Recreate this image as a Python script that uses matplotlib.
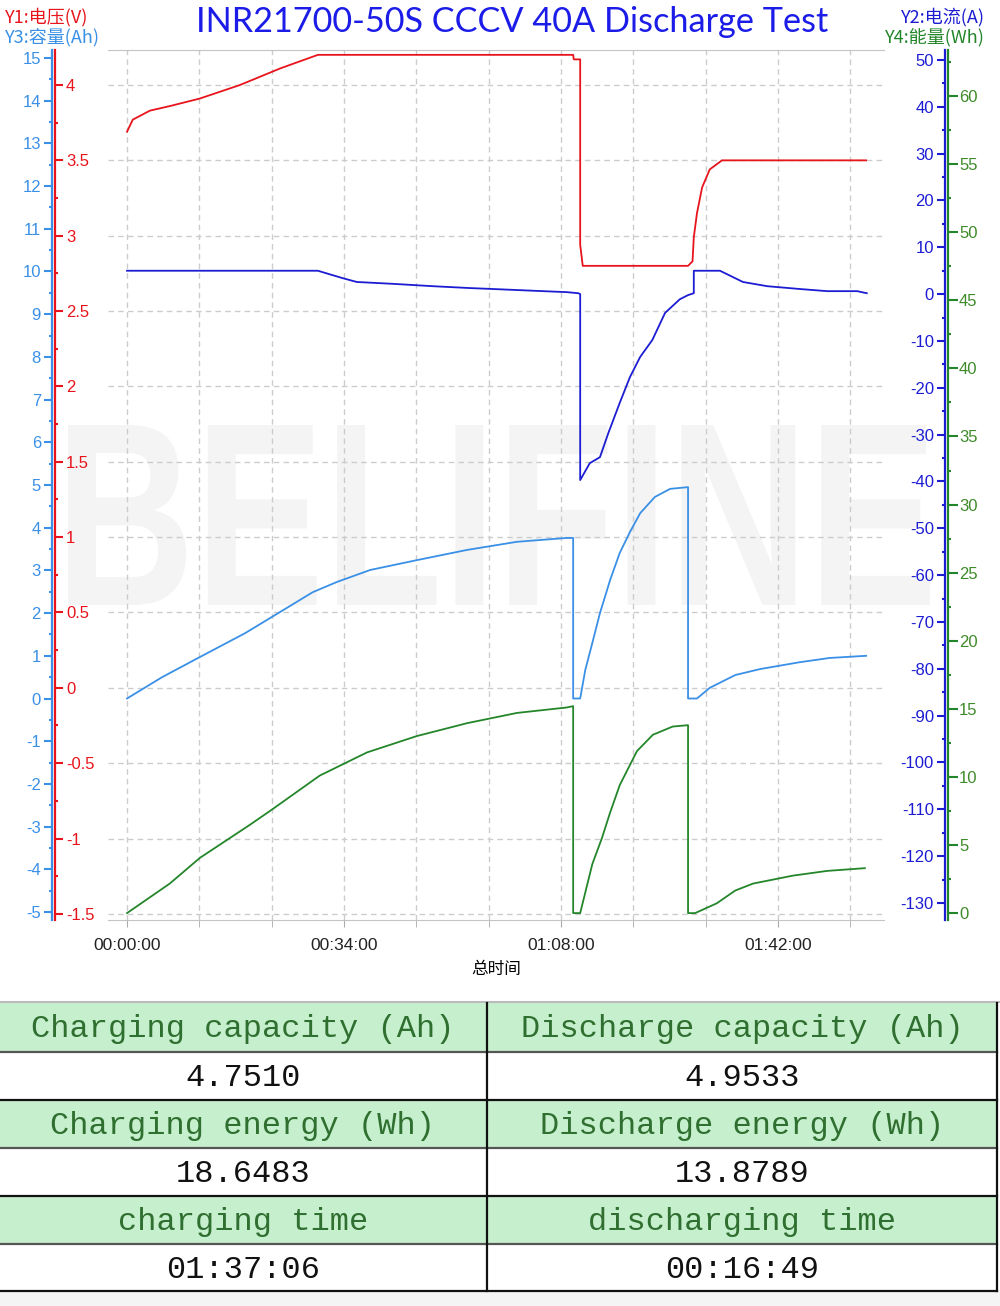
import matplotlib.pyplot as plt
from matplotlib.patches import Rectangle, PathPatch
from matplotlib.textpath import TextPath
from matplotlib.font_manager import FontProperties
from matplotlib.transforms import Affine2D
from matplotlib.ticker import MultipleLocator, FixedLocator, FuncFormatter

plt.rcParams['font.family'] = ['Liberation Sans', 'Noto Sans CJK SC', 'DejaVu Sans']
plt.rcParams['axes.unicode_minus'] = False

# ---- data (time in minutes) ----
t_volt = [0, 0.9, 3.6, 6.7, 11.4, 17.7, 24.0, 29.9, 69.9, 70.0, 71.0, 71.0, 71.4,
          87.9, 88.6, 88.8, 89.3, 90.1, 91.3, 92.9, 93.2, 115.8]
volt = [3.69, 3.77, 3.83, 3.86, 3.91, 4.00, 4.11, 4.20, 4.20, 4.17, 4.17, 2.94, 2.80,
        2.80, 2.83, 2.99, 3.15, 3.32, 3.44, 3.49, 3.50, 3.50]

t_curr = [0, 29.9, 33.7, 36.0, 41.7, 47.9, 53.7, 57.3, 65.2, 68.9, 70.7, 71.0, 71.0,
          72.5, 74.1, 75.4, 77.2, 78.8, 80.4, 82.3, 84.3, 86.6, 87.9, 88.8, 88.8,
          92.9, 96.5, 100.3, 105.4, 109.7, 114.4, 115.9]
curr = [5.0, 5.0, 3.45, 2.6, 2.2, 1.7, 1.3, 1.1, 0.64, 0.43, 0.2, 0.0, -39.7,
        -36.1, -34.8, -29.7, -23.2, -17.7, -13.4, -9.8, -4.0, -1.1, -0.2, 0.2, 5.0,
        5.0, 2.6, 1.7, 1.1, 0.64, 0.64, 0.2]

t_cap = [0, 5.5, 11.4, 18.5, 22.7, 29.1, 32.9, 38.1, 45.4, 53.3, 61.1, 68.9, 69.9, 69.9,
         71.0, 71.8, 72.9, 74.1, 75.7, 77.2, 78.8, 80.4, 82.7, 85.1, 87.9, 87.9,
         89.3, 91.3, 95.3, 99.2, 105.4, 110.1, 115.8]
cap = [0.0, 0.50, 0.97, 1.53, 1.91, 2.49, 2.73, 3.01, 3.24, 3.48, 3.67, 3.76, 3.76, 0.0,
       0.0, 0.67, 1.30, 2.0, 2.78, 3.41, 3.90, 4.34, 4.72, 4.91, 4.95, 0.0,
       0.0, 0.25, 0.55, 0.69, 0.85, 0.95, 1.0]

t_energy = [0, 6.7, 11.4, 19.3, 22.7, 30.2, 37.6, 45.4, 53.3, 61.1, 68.9, 69.9, 69.9,
            71.0, 72.9, 74.4, 75.7, 77.2, 79.9, 82.4, 85.5, 87.9, 87.9,
            89.0, 92.4, 95.3, 98.1, 104.3, 109.7, 115.6]
energy = [0.0, 2.17, 4.05, 6.5, 7.6, 10.1, 11.8, 13.0, 13.95, 14.7, 15.1, 15.2, 0.0,
          0.0, 3.6, 5.5, 7.4, 9.4, 11.9, 13.1, 13.7, 13.8, 0.0,
          0.0, 0.72, 1.66, 2.17, 2.75, 3.1, 3.3]

x_major = [0, 34, 68, 102]

table_left = ["Charging capacity (Ah)", "4.7510", "Charging energy (Wh)", "18.6483",
              "charging time", "01:37:06"]
table_right = ["Discharge capacity (Ah)", "4.9533", "Discharge energy (Wh)", "13.8789",
               "discharging time", "00:16:49"]

RED = '#e8141c'
BLUE = '#1c1cd2'
LBLUE = '#3a90e6'
GREEN = '#24862a'

W, H = 1000, 1306
fig = plt.figure(figsize=(10, 13.06), dpi=100)

def fx(x):
    return x / W

def fy(y):
    return 1 - y / H

# background layer: watermark + table
bg = fig.add_axes([0, 0, 1, 1], zorder=0)
bg.set_xlim(0, W)
bg.set_ylim(H, 0)
bg.axis('off')

tp = TextPath((0, 0), "BELIFINE", size=100,
              prop=FontProperties(family='Liberation Sans', weight='bold'))
bb = tp.get_extents()
tr = Affine2D().translate(-bb.x0, -bb.y0).scale((930 - 68) / bb.width,
                                                  -(605 - 425) / bb.height).translate(68, 605)
bg.add_patch(PathPatch(tr.transform_path(tp), fc='#f4f4f4', ec='none'))

# table
row_edges = [1003, 1052, 1100, 1148, 1196, 1244, 1291]
col_mid = [243, 742]
bg.add_patch(Rectangle((0, 1291), W, H - 1291, fc='#f4f4f4', ec='none'))
for r in range(6):
    y0, y1 = row_edges[r], row_edges[r + 1]
    header = r % 2 == 0
    if header:
        bg.add_patch(Rectangle((0, y0), 997, y1 - y0, fc='#c6efce', ec='none'))
    for cx, txt in zip(col_mid, [table_left[r], table_right[r]]):
        bg.text(cx, (y0 + y1) / 2 + 2, txt, ha='center', va='center', fontsize=23,
                family='Liberation Mono', color='#2f6f2f' if header else '#111111')
bg.plot([0, 1000], [1002, 1002], color='#bbbbbb', lw=1.5)
for i, y in enumerate(row_edges[1:]):
    bg.plot([0, 997], [y, y], color='#555555' if i % 2 == 0 else '#111111', lw=1.6)
bg.plot([487, 487], [1003, 1291], color='#111111', lw=1.6)
bg.plot([997, 997], [1003, 1291], color='#111111', lw=1.6)

# ---- chart ----
ax = fig.add_axes([fx(108), fy(920), (884 - 108) / W, (920 - 50) / H], zorder=1)
ax.patch.set_visible(False)
ax3 = ax.twinx()
ax2 = ax.twinx()
ax4 = ax.twinx()
for a in (ax3, ax2, ax4):
    a.set_zorder(2)
    for s in a.spines.values():
        s.set_visible(False)

ax.set_xlim(-2.98, 118.6)
ax.set_ylim(-1.5407, 4.2322)
ax3.set_ylim(-5.187, 15.187)
ax2.set_ylim(-133.64, 52.135)
ax4.set_ylim(-0.506, 63.38)

ax.plot(t_volt, volt, color=RED, lw=1.3)
ax2.plot(t_curr, curr, color=BLUE, lw=1.3)
ax3.plot(t_cap, cap, color=LBLUE, lw=1.3)
ax4.plot(t_energy, energy, color=GREEN, lw=1.3)

# x axis
ax.xaxis.set_major_locator(FixedLocator(x_major))
ax.xaxis.set_minor_locator(MultipleLocator(34 / 3))
ax.xaxis.set_major_formatter(FuncFormatter(lambda m, p: f"{int(m // 60):02d}:{int(m % 60):02d}:00"))
ax.tick_params(axis='x', which='both', colors='#aaaaaa', labelcolor='#222222',
               labelsize=12.5, length=5, pad=8)
ax.set_xlabel("总时间", family=['Noto Sans CJK SC'], fontsize=12, labelpad=6)
ax.grid(True, axis='x', which='both', ls=(0, (4, 3)), color='#cccccc', lw=1)
ax.grid(True, axis='y', which='major', ls=(0, (4, 3)), color='#cccccc', lw=1)

for s in ('top', 'bottom'):
    ax.spines[s].set_color('#c4c4c4')
ax.spines['left'].set_visible(False)

# Y1 voltage (red) - spine at left, ticks pointing right
ax.yaxis.tick_right()
ax.spines['right'].set_position(('axes', (55 - 108) / 776))
ax.spines['right'].set_color(RED)
ax.spines['right'].set_linewidth(1.6)
ax.yaxis.set_major_locator(MultipleLocator(0.5))
ax.yaxis.set_minor_locator(MultipleLocator(0.25))
ax.yaxis.set_major_formatter(FuncFormatter(lambda v, p: f"{v:g}"))
ax.tick_params(axis='y', which='major', colors=RED, labelsize=12, length=6, width=1.5, pad=2)
ax.tick_params(axis='y', which='minor', colors=RED, length=2.5, width=1.5)

# Y3 capacity (light blue) - far left
ax3.yaxis.tick_left()
ax3.spines['left'].set_visible(True)
ax3.spines['left'].set_position(('axes', (52 - 108) / 776))
ax3.spines['left'].set_color(LBLUE)
ax3.spines['left'].set_linewidth(1.6)
ax3.yaxis.set_major_locator(MultipleLocator(1))
ax3.yaxis.set_minor_locator(MultipleLocator(0.5))
ax3.tick_params(axis='y', which='major', colors=LBLUE, labelsize=12, length=6, width=1.5, pad=2)
ax3.tick_params(axis='y', which='minor', colors=LBLUE, length=2.5, width=1.5)

# Y2 current (blue) - right side, ticks/labels to the left of spine
ax2.yaxis.tick_left()
ax2.spines['left'].set_visible(True)
ax2.spines['left'].set_position(('axes', (945 - 108) / 776))
ax2.spines['left'].set_color(BLUE)
ax2.spines['left'].set_linewidth(1.6)
ax2.yaxis.set_major_locator(MultipleLocator(10))
ax2.yaxis.set_minor_locator(MultipleLocator(5))
ax2.tick_params(axis='y', which='major', colors=BLUE, labelsize=12, length=6, width=1.5, pad=2)
ax2.tick_params(axis='y', which='minor', colors=BLUE, length=2.5, width=1.5)

# Y4 energy (green) - far right
ax4.yaxis.tick_right()
ax4.spines['right'].set_visible(True)
ax4.spines['right'].set_position(('axes', (948 - 108) / 776))
ax4.spines['right'].set_color(GREEN)
ax4.spines['right'].set_linewidth(1.6)
ax4.yaxis.set_major_locator(MultipleLocator(5))
ax4.yaxis.set_minor_locator(MultipleLocator(2.5))
ax4.tick_params(axis='y', which='major', colors=GREEN, labelcolor='#3f8a2a',
                labelsize=12, length=7, width=1.5, pad=1)
ax4.tick_params(axis='y', which='minor', colors=GREEN, length=2.5, width=1.5)

# titles / axis captions
fig.text(fx(512), fy(22), "INR21700-50S CCCV 40A Discharge Test", ha='center', va='center',
         fontsize=24.7, family='Lato', color='#1c1ce8')
cjk = ['Noto Sans CJK SC']
fig.text(fx(5), fy(17), "Y1:电压(V)", ha='left', va='center', fontsize=13, family=cjk, color=RED)
fig.text(fx(5), fy(38), "Y3:容量(Ah)", ha='left', va='center', fontsize=13, family=cjk, color=LBLUE)
fig.text(fx(985), fy(17), "Y2:电流(A)", ha='right', va='center', fontsize=13, family=cjk, color=BLUE)
fig.text(fx(985), fy(38), "Y4:能量(Wh)", ha='right', va='center', fontsize=13, family=cjk, color=GREEN)

fig.savefig("out.png", dpi=100, facecolor='white')
